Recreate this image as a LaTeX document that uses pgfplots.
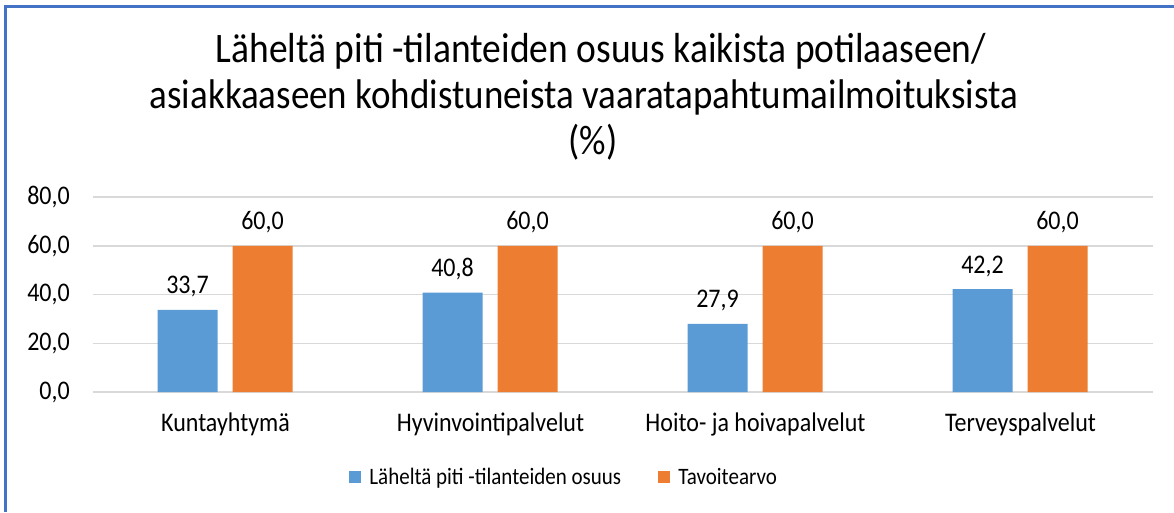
\documentclass[border=0pt]{standalone}
\usepackage{graphicx}
\usepackage{pgfplots}
\pgfplotsset{compat=1.18}
\usepackage{fontspec}
\setmainfont{Carlito}
\definecolor{cblue}{HTML}{5B9BD5}
\definecolor{corange}{HTML}{ED7D31}
\definecolor{cgrid}{HTML}{D9D9D9}
\definecolor{cframe}{HTML}{4472C4}
\newcommand{\st}[1]{\scalebox{1}[1.12]{#1}}
\begin{document}
\begin{tikzpicture}[x=1pt,y=1pt]
\path[use as bounding box] (0,0) rectangle (1174,512);
\draw[cframe, line width=3pt] (5,0) -- (5,505.5) -- (1174,505.5);
\node[anchor=base, inner sep=0pt, font=\fontsize{37.5}{42}\selectfont] at (601,449) {\st{Läheltä piti -tilanteiden osuus kaikista potilaaseen/}};
\node[anchor=base, inner sep=0pt, font=\fontsize{37}{42}\selectfont] at (584,403) {\st{asiakkaaseen kohdistuneista vaaratapahtumailmoituksista}};
\node[anchor=base, inner sep=0pt, font=\fontsize{37}{42}\selectfont] at (593,357) {\st{(\%)}};
\begin{axis}[
  at={(93pt,120pt)}, anchor=south west,
  scale only axis, width=1060pt, height=195pt,
  ybar, bar width=60pt,
  xmin=-0.5, xmax=3.5, ymin=0, ymax=80,
  xtick={0,1,2,3},
  xticklabels={\st{Kuntayhtymä}, \st{Hyvinvointipalvelut}, \st{Hoito- ja hoivapalvelut}, \st{Terveyspalvelut}},
  ytick={0,20,40,60,80},
  axis line style={draw=none},
  major tick length=0pt,
  ymajorgrids, grid style={cgrid, line width=1.5pt},
  /pgf/number format/.cd, fixed, fixed zerofill, precision=1, use comma, assume math mode=true,
  /pgfplots/.cd,
  yticklabel={\st{\pgfmathprintnumber{\tick}}},
  yticklabel style={anchor=east, inner sep=0pt, xshift=-23pt, font=\fontsize{24}{29}\selectfont},
  xticklabel style={anchor=base, inner sep=0pt, yshift=-39pt, font=\fontsize{24}{29}\selectfont},
  nodes near coords={\st{\pgfmathprintnumber{\pgfplotspointmeta}}},
  every node near coord/.append style={anchor=base, inner sep=0pt, yshift=16pt, font=\fontsize{24}{29}\selectfont, black},
  clip=false,
  legend columns=2,
  legend style={at={(0.4445,-0.436)}, anchor=center, draw=none, fill=none,
    font=\fontsize{21}{25}\selectfont, column sep=0pt, inner sep=0pt,
    /tikz/every odd column/.append style={column sep=6pt},
    /tikz/every even column/.append style={column sep=35pt}},
  legend image code/.code={\fill[#1] (0pt,-6pt) rectangle (12pt,6pt);},
  legend cell align=left,
]
\addplot[ybar, bar shift=-38pt, fill=cblue, draw=none] coordinates {(0,33.7) (1,40.8) (2,27.9) (3,42.2)};
\addplot[ybar, bar shift=37pt, fill=corange, draw=none] coordinates {(0,60) (1,60) (2,60) (3,60)};
\legend{\st{Läheltä piti -tilanteiden osuus}, \st{Tavoitearvo}}
\end{axis}
\end{tikzpicture}
\end{document}
